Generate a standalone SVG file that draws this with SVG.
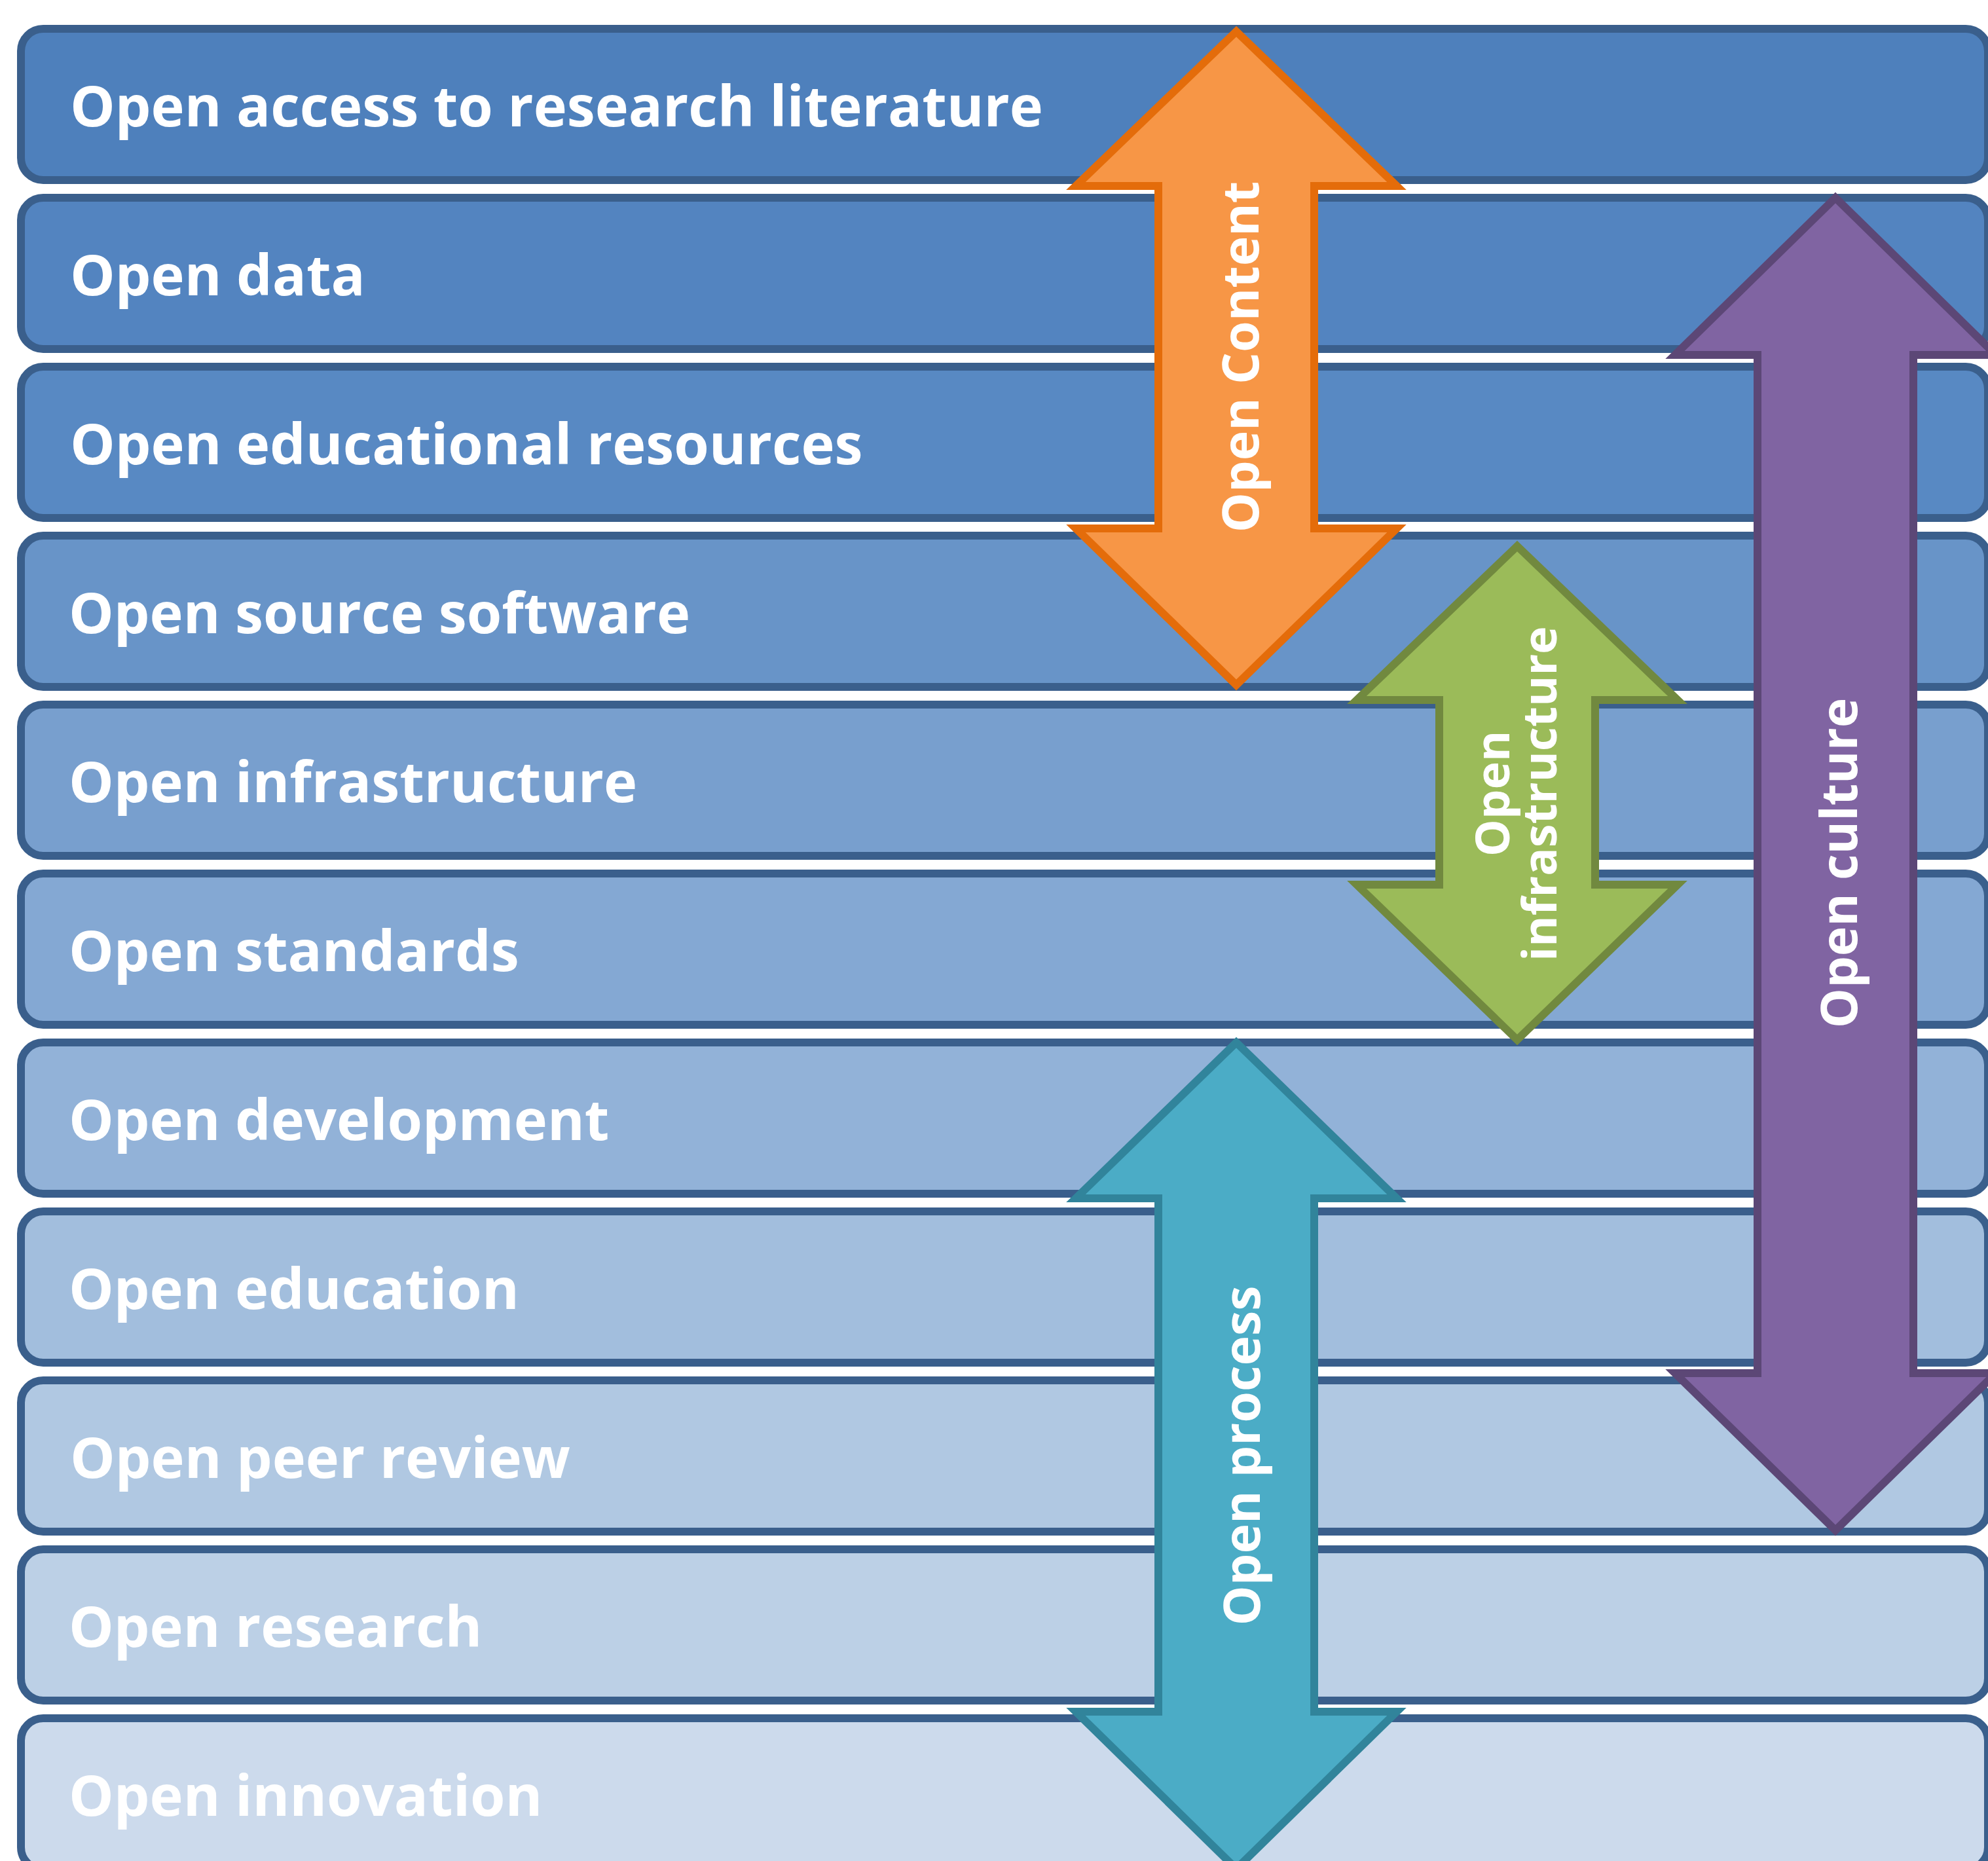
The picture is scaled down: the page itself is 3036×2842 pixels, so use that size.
<svg xmlns="http://www.w3.org/2000/svg" width="3036" height="2842" viewBox="0 0 3036 2842">
<style>
.bar{stroke:#3A5F8C;stroke-width:12}
.lbl{font-family:"Open Sans","Liberation Sans",sans-serif;font-weight:700;font-size:86.5px;fill:#FFFFFF}
.alb{font-family:"Open Sans","Liberation Sans",sans-serif;font-weight:700;font-size:77px;fill:#FFFFFF;text-anchor:middle}
.arr{stroke-width:12;stroke-linejoin:miter;stroke-miterlimit:10}
</style>
<rect x="0" y="0" width="3036" height="2842" fill="#FFFFFF"/>
<g id="bars">
<g id="row1"><rect class="bar" x="32" y="44" width="3004" height="231" rx="34" fill="#4E80BC"/><text class="lbl" x="107" y="193">Open access to research literature</text></g>
<g id="row2"><rect class="bar" x="32" y="302" width="3004" height="231" rx="34" fill="#5384C0"/><text class="lbl" x="107" y="451">Open data</text></g>
<g id="row3"><rect class="bar" x="32" y="560" width="3004" height="231" rx="34" fill="#5889C3"/><text class="lbl" x="107" y="709">Open educational resources</text></g>
<g id="row4"><rect class="bar" x="32" y="818" width="3004" height="231" rx="34" fill="#6894C8"/><text class="lbl" x="105" y="967">Open source software</text></g>
<g id="row5"><rect class="bar" x="32" y="1076" width="3004" height="231" rx="34" fill="#789FCE"/><text class="lbl" x="105" y="1225">Open infrastructure</text></g>
<g id="row6"><rect class="bar" x="32" y="1334" width="3004" height="231" rx="34" fill="#84A8D3"/><text class="lbl" x="105" y="1483">Open standards</text></g>
<g id="row7"><rect class="bar" x="32" y="1592" width="3004" height="231" rx="34" fill="#92B2D8"/><text class="lbl" x="105" y="1741">Open development</text></g>
<g id="row8"><rect class="bar" x="32" y="1850" width="3004" height="231" rx="34" fill="#A2BEDD"/><text class="lbl" x="105" y="1999">Open education</text></g>
<g id="row9"><rect class="bar" x="32" y="2108" width="3004" height="231" rx="34" fill="#B0C8E2"/><text class="lbl" x="107" y="2257">Open peer review</text></g>
<g id="row10"><rect class="bar" x="32" y="2366" width="3004" height="231" rx="34" fill="#BCD0E6"/><text class="lbl" x="105" y="2515">Open research</text></g>
<g id="row11"><rect class="bar" x="32" y="2624" width="3004" height="231" rx="34" fill="#CCDAEC"/><text class="lbl" x="105" y="2773">Open innovation</text></g>
</g>
<g id="connectors">
<g id="open-content">
<path class="arr" fill="#F79646" stroke="#E46C0A" d="M1888,48 L2133,284 L2007,284 L2007,807 L2133,807 L1888,1046 L1643,807 L1769,807 L1769,284 L1643,284 Z"/>
<text class="alb" transform="translate(1922,545) rotate(-90)">Open Content</text>
</g>
<g id="open-infrastructure">
<path class="arr" fill="#9BBB59" stroke="#71893F" d="M2317,834 L2562,1069 L2436,1069 L2436,1351 L2562,1351 L2317,1588 L2072,1351 L2198,1351 L2198,1069 L2072,1069 Z"/>
<text class="alb" style="font-size:72px" transform="translate(2305,1212) rotate(-90)">Open</text>
<text class="alb" style="font-size:72px" transform="translate(2377,1212) rotate(-90)">infrastructure</text>
</g>
<g id="open-culture">
<path class="arr" fill="#8064A2" stroke="#5C4776" d="M2803,302 L3048,542 L2922,542 L2922,2097 L3048,2097 L2803,2337 L2558,2097 L2684,2097 L2684,542 L2558,542 Z"/>
<text class="alb" transform="translate(2836,1318) rotate(-90)">Open culture</text>
</g>
<g id="open-process">
<path class="arr" fill="#4BACC6" stroke="#31849B" d="M1888,1592 L2133,1830 L2007,1830 L2007,2614 L2133,2614 L1888,2854 L1643,2614 L1769,2614 L1769,1830 L1643,1830 Z"/>
<text class="alb" transform="translate(1924,2223) rotate(-90)">Open process</text>
</g>
</g>
</svg>
